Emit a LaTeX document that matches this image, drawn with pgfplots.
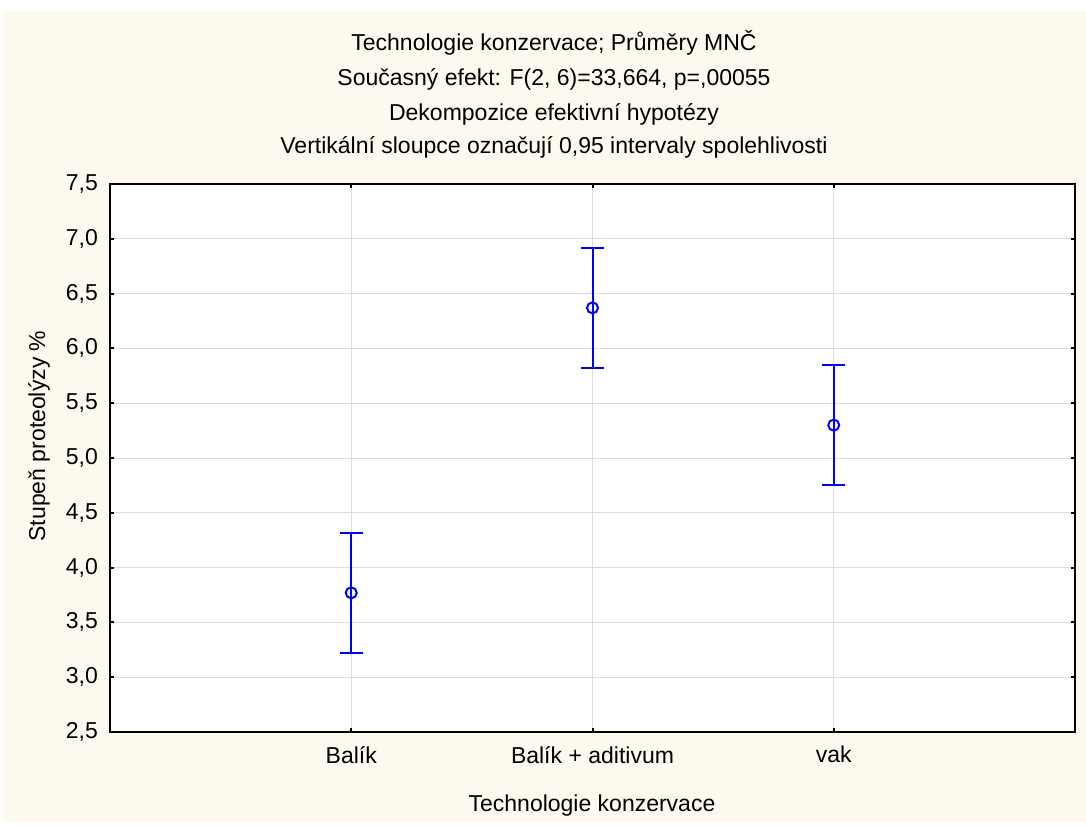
\documentclass[border=0pt]{standalone}
\usepackage{pgfplots}
\pgfplotsset{compat=1.18}
\usepackage{pgfplotstable}
\usepackage{fontspec}
\setmainfont{Liberation Sans}
\definecolor{bgcream}{HTML}{FDF9EE}
\definecolor{gridgray}{HTML}{DCDCDC}

\pgfplotstableread{
x y e
0 3.77 0.55
1 6.37 0.55
2 5.30 0.55
}\means

\begin{document}
\fontsize{11.5}{13.8}\selectfont
\begin{tikzpicture}[x=1pt,y=1pt]
\fill[white] (-55,-47) rectangle (488,366);
\fill[bgcream] (-53,-45) rectangle (488,360.5);
\begin{axis}[
  at={(0,0)}, anchor=south west,
  width=482.5pt, height=274pt, scale only axis,
  axis background/.style={fill=white},
  xmin=-1, xmax=3, ymin=2.5, ymax=7.5,
  xtick={0,1,2}, xticklabels={Balík, Balík + aditivum, vak},
  ytick={2.5,3,3.5,4,4.5,5,5.5,6,6.5,7,7.5},
  /pgf/number format/use comma,
  /pgf/number format/fixed,
  /pgf/number format/fixed zerofill,
  /pgf/number format/precision=1,
  /pgf/number format/assume math mode=true,
  ticklabel style={font=\fontsize{11.5}{13.8}\selectfont},
  yticklabel style={xshift=-2pt},
  xticklabel style={yshift=-3pt},
  tick pos=both, tick align=inside, major tick length=2pt,
  tick style={black, line width=1pt},
  axis line style={black, line width=1pt},
  grid=major, major grid style={gridgray, line width=0.5pt},
  clip=false,
]
\addplot[blue, line width=1pt, only marks, mark=o, mark size=2.75pt, mark options={fill=white, line width=1pt},
  error bars/.cd, y dir=both, y explicit,
  error bar style={blue, line width=1pt},
  error mark options={blue, line width=1pt, mark size=5.75pt, rotate=90}]
  table[x=x, y=y, y error=e] {\means};
\end{axis}
\node[anchor=base] at (222,340.5) {Technologie konzervace; Průměry MNČ};
\node[anchor=base] at (222,323) {Současný efekt: F(2, 6)=33,664, p=,00055};
\node[anchor=base] at (222,305.5) {Dekompozice efektivní hypotézy};
\node[anchor=base] at (222,289) {Vertikální sloupce označují 0,95 intervaly spolehlivosti};
\node[anchor=base] at (241,-39.5) {Technologie konzervace};
\node[rotate=90, anchor=base] at (-32.5,148) {Stupeň proteolýzy \%};
\end{tikzpicture}
\end{document}
